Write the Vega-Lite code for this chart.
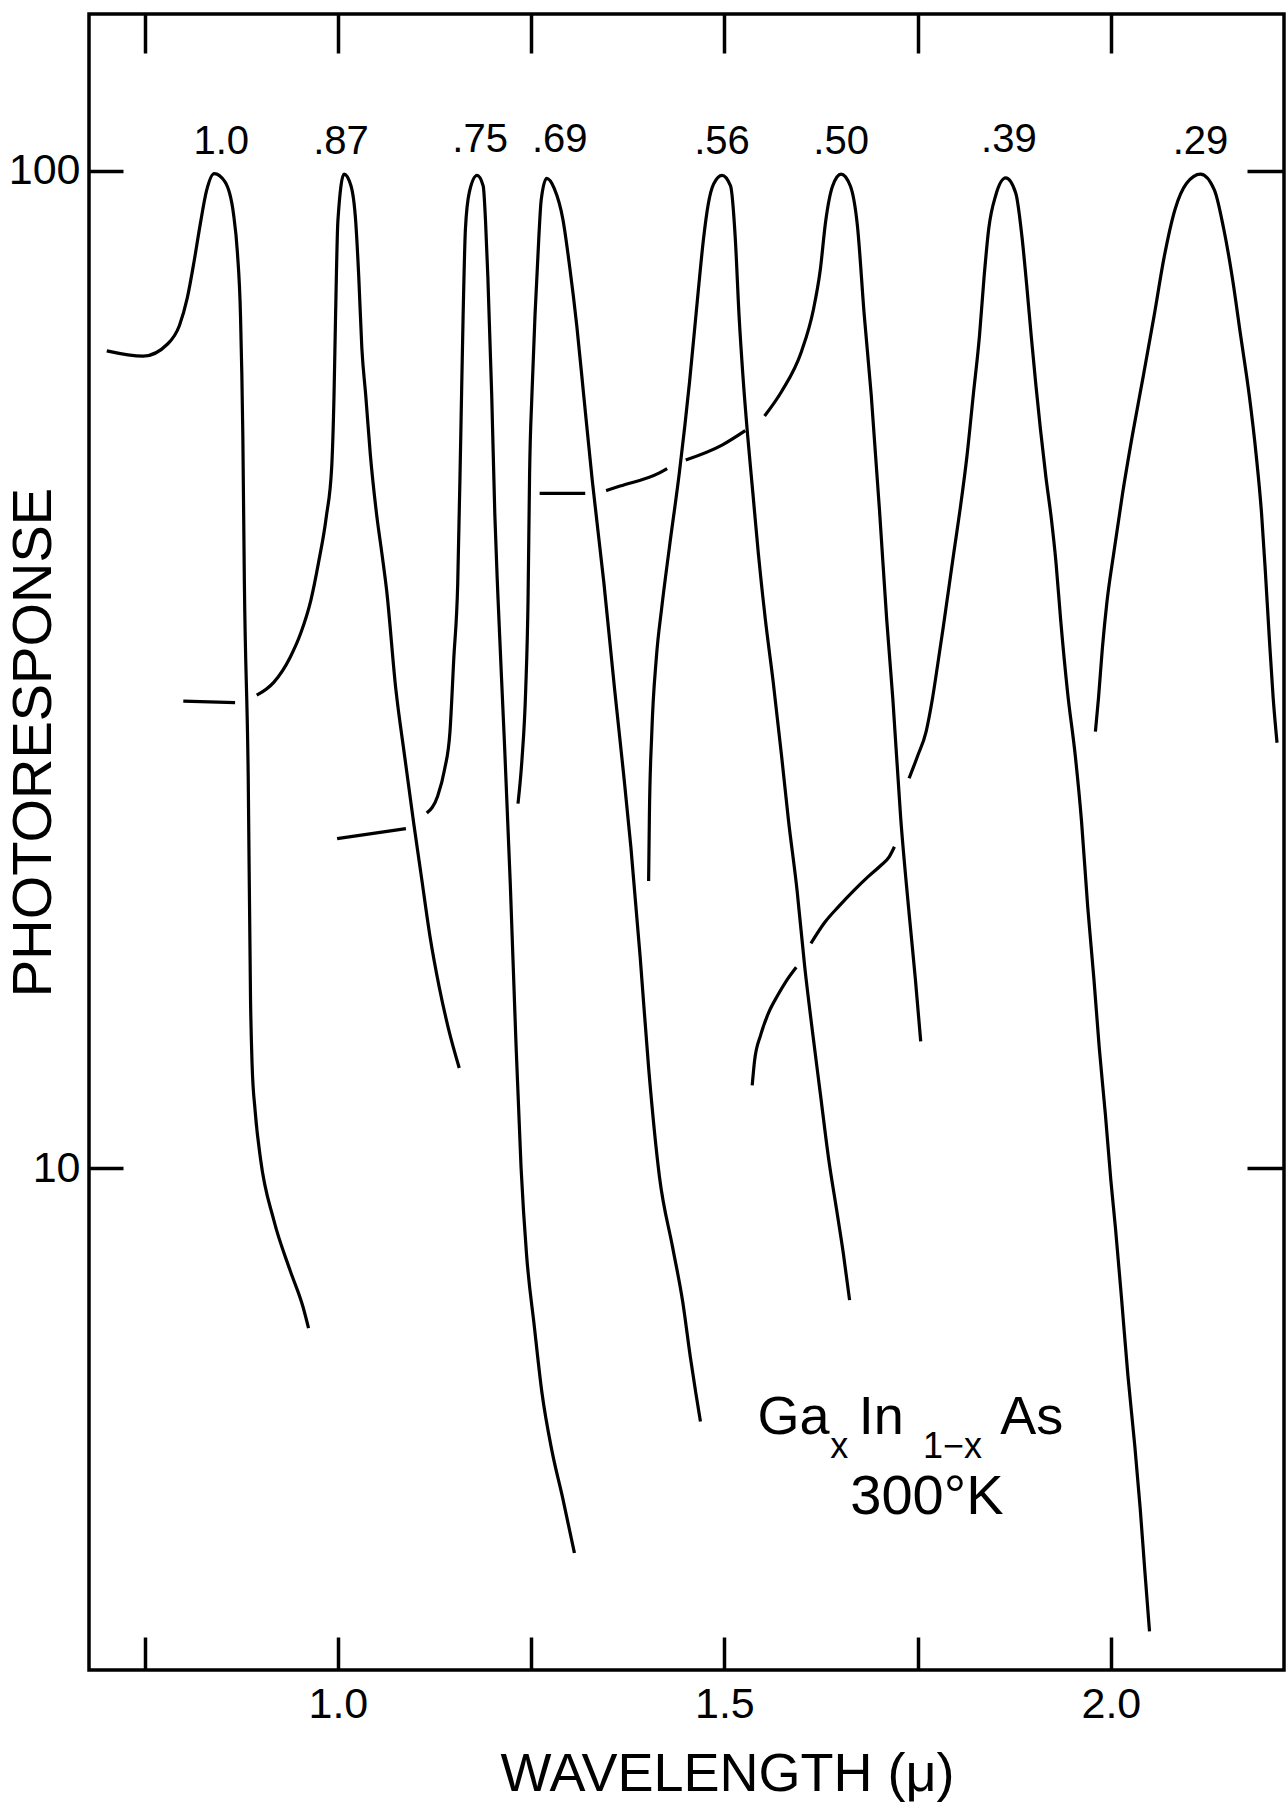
{
  "$schema": "https://vega.github.io/schema/vega-lite/v6.json",
  "width": 1195,
  "height": 1656,
  "autosize": {"type": "none"},
  "padding": {"left": 89, "top": 14, "right": 3, "bottom": 139},
  "background": "white",
  "config": {
    "view": {"stroke": "black", "strokeWidth": 3.5},
    "axis": {"grid": false, "domain": false, "tickColor": "black", "tickWidth": 3.5, "labelColor": "black", "titleColor": "black", "labelFont": "Liberation Sans", "titleFont": "Liberation Sans", "titleFontWeight": "normal"},
    "text": {"font": "Liberation Sans", "color": "black"}
  },
  "datasets": {
    "curves": [
      {"segment": "1.0", "wavelength": 0.701, "response": 66.0},
      {"segment": "1.0", "wavelength": 0.748, "response": 65.2},
      {"segment": "1.0", "wavelength": 0.780, "response": 67.1},
      {"segment": "1.0", "wavelength": 0.795, "response": 70.0},
      {"segment": "1.0", "wavelength": 0.805, "response": 74.5},
      {"segment": "1.0", "wavelength": 0.814, "response": 81.2},
      {"segment": "1.0", "wavelength": 0.822, "response": 88.5},
      {"segment": "1.0", "wavelength": 0.830, "response": 95.5},
      {"segment": "1.0", "wavelength": 0.840, "response": 99.4},
      {"segment": "1.0", "wavelength": 0.854, "response": 97.5},
      {"segment": "1.0", "wavelength": 0.865, "response": 90.5},
      {"segment": "1.0", "wavelength": 0.870, "response": 82.8},
      {"segment": "1.0", "wavelength": 0.874, "response": 71.6},
      {"segment": "1.0", "wavelength": 0.877, "response": 54.4},
      {"segment": "1.0", "wavelength": 0.879, "response": 38.7},
      {"segment": "1.0", "wavelength": 0.884, "response": 24.6},
      {"segment": "1.0", "wavelength": 0.887, "response": 14.7},
      {"segment": "1.0", "wavelength": 0.889, "response": 12.7},
      {"segment": "1.0", "wavelength": 0.893, "response": 11.4},
      {"segment": "1.0", "wavelength": 0.900, "response": 10.2},
      {"segment": "1.0", "wavelength": 0.917, "response": 8.87},
      {"segment": "1.0", "wavelength": 0.938, "response": 7.90},
      {"segment": "1.0", "wavelength": 0.955, "response": 7.25},
      {"segment": "1.0", "wavelength": 0.962, "response": 6.91},

      {"segment": "0.87a", "wavelength": 0.800, "response": 29.4},
      {"segment": "0.87a", "wavelength": 0.867, "response": 29.3},
      {"segment": "0.87b", "wavelength": 0.895, "response": 29.8},
      {"segment": "0.87b", "wavelength": 0.917, "response": 30.7},
      {"segment": "0.87b", "wavelength": 0.938, "response": 32.5},
      {"segment": "0.87b", "wavelength": 0.952, "response": 34.4},
      {"segment": "0.87b", "wavelength": 0.965, "response": 37.1},
      {"segment": "0.87b", "wavelength": 0.975, "response": 40.5},
      {"segment": "0.87b", "wavelength": 0.985, "response": 45.0},
      {"segment": "0.87b", "wavelength": 0.992, "response": 50.5},
      {"segment": "0.87b", "wavelength": 0.995, "response": 59.6},
      {"segment": "0.87b", "wavelength": 0.997, "response": 71.6},
      {"segment": "0.87b", "wavelength": 1.000, "response": 89.1},
      {"segment": "0.87b", "wavelength": 1.008, "response": 99.3},
      {"segment": "0.87b", "wavelength": 1.017, "response": 96.6},
      {"segment": "0.87b", "wavelength": 1.023, "response": 89.1},
      {"segment": "0.87b", "wavelength": 1.027, "response": 78.3},
      {"segment": "0.87b", "wavelength": 1.031, "response": 66.4},
      {"segment": "0.87b", "wavelength": 1.036, "response": 59.6},
      {"segment": "0.87b", "wavelength": 1.042, "response": 51.9},
      {"segment": "0.87b", "wavelength": 1.050, "response": 45.3},
      {"segment": "0.87b", "wavelength": 1.057, "response": 41.3},
      {"segment": "0.87b", "wavelength": 1.063, "response": 38.0},
      {"segment": "0.87b", "wavelength": 1.075, "response": 30.2},
      {"segment": "0.87b", "wavelength": 1.086, "response": 26.0},
      {"segment": "0.87b", "wavelength": 1.098, "response": 22.2},
      {"segment": "0.87b", "wavelength": 1.108, "response": 19.6},
      {"segment": "0.87b", "wavelength": 1.119, "response": 17.1},
      {"segment": "0.87b", "wavelength": 1.131, "response": 15.2},
      {"segment": "0.87b", "wavelength": 1.143, "response": 13.8},
      {"segment": "0.87b", "wavelength": 1.157, "response": 12.6},

      {"segment": "0.75a", "wavelength": 0.999, "response": 21.4},
      {"segment": "0.75a", "wavelength": 1.088, "response": 21.9},
      {"segment": "0.75b", "wavelength": 1.115, "response": 22.7},
      {"segment": "0.75b", "wavelength": 1.129, "response": 23.6},
      {"segment": "0.75b", "wavelength": 1.138, "response": 25.1},
      {"segment": "0.75b", "wavelength": 1.145, "response": 27.4},
      {"segment": "0.75b", "wavelength": 1.150, "response": 32.5},
      {"segment": "0.75b", "wavelength": 1.155, "response": 38.5},
      {"segment": "0.75b", "wavelength": 1.159, "response": 54.4},
      {"segment": "0.75b", "wavelength": 1.162, "response": 71.6},
      {"segment": "0.75b", "wavelength": 1.165, "response": 87.5},
      {"segment": "0.75b", "wavelength": 1.170, "response": 95.2},
      {"segment": "0.75b", "wavelength": 1.180, "response": 99.0},
      {"segment": "0.75b", "wavelength": 1.188, "response": 96.6},
      {"segment": "0.75b", "wavelength": 1.191, "response": 89.1},
      {"segment": "0.75b", "wavelength": 1.194, "response": 78.3},
      {"segment": "0.75b", "wavelength": 1.199, "response": 59.6},
      {"segment": "0.75b", "wavelength": 1.203, "response": 45.3},
      {"segment": "0.75b", "wavelength": 1.207, "response": 37.5},
      {"segment": "0.75b", "wavelength": 1.215, "response": 27.2},
      {"segment": "0.75b", "wavelength": 1.223, "response": 19.3},
      {"segment": "0.75b", "wavelength": 1.230, "response": 13.6},
      {"segment": "0.75b", "wavelength": 1.237, "response": 10.0},
      {"segment": "0.75b", "wavelength": 1.244, "response": 8.20},
      {"segment": "0.75b", "wavelength": 1.254, "response": 6.95},
      {"segment": "0.75b", "wavelength": 1.264, "response": 5.95},
      {"segment": "0.75b", "wavelength": 1.277, "response": 5.20},
      {"segment": "0.75b", "wavelength": 1.291, "response": 4.66},
      {"segment": "0.75b", "wavelength": 1.306, "response": 4.11},

      {"segment": "0.69", "wavelength": 1.233, "response": 23.2},
      {"segment": "0.69", "wavelength": 1.238, "response": 25.6},
      {"segment": "0.69", "wavelength": 1.243, "response": 30.2},
      {"segment": "0.69", "wavelength": 1.246, "response": 37.1},
      {"segment": "0.69", "wavelength": 1.248, "response": 49.7},
      {"segment": "0.69", "wavelength": 1.251, "response": 59.6},
      {"segment": "0.69", "wavelength": 1.255, "response": 71.6},
      {"segment": "0.69", "wavelength": 1.260, "response": 85.9},
      {"segment": "0.69", "wavelength": 1.263, "response": 93.5},
      {"segment": "0.69", "wavelength": 1.270, "response": 98.3},
      {"segment": "0.69", "wavelength": 1.280, "response": 96.0},
      {"segment": "0.69", "wavelength": 1.291, "response": 89.5},
      {"segment": "0.69", "wavelength": 1.300, "response": 80.0},
      {"segment": "0.69", "wavelength": 1.309, "response": 70.0},
      {"segment": "0.69", "wavelength": 1.318, "response": 59.6},
      {"segment": "0.69", "wavelength": 1.329, "response": 49.0},
      {"segment": "0.69", "wavelength": 1.344, "response": 38.7},
      {"segment": "0.69", "wavelength": 1.358, "response": 30.2},
      {"segment": "0.69", "wavelength": 1.369, "response": 25.1},
      {"segment": "0.69", "wavelength": 1.379, "response": 21.0},
      {"segment": "0.69", "wavelength": 1.391, "response": 16.3},
      {"segment": "0.69", "wavelength": 1.402, "response": 12.6},
      {"segment": "0.69", "wavelength": 1.416, "response": 9.80},
      {"segment": "0.69", "wavelength": 1.433, "response": 8.33},
      {"segment": "0.69", "wavelength": 1.446, "response": 7.35},
      {"segment": "0.69", "wavelength": 1.456, "response": 6.46},
      {"segment": "0.69", "wavelength": 1.463, "response": 5.95},
      {"segment": "0.69", "wavelength": 1.469, "response": 5.57},

      {"segment": "0.56", "wavelength": 1.402, "response": 19.4},
      {"segment": "0.56", "wavelength": 1.403, "response": 22.6},
      {"segment": "0.56", "wavelength": 1.406, "response": 27.2},
      {"segment": "0.56", "wavelength": 1.412, "response": 32.5},
      {"segment": "0.56", "wavelength": 1.419, "response": 36.5},
      {"segment": "0.56", "wavelength": 1.429, "response": 42.0},
      {"segment": "0.56", "wavelength": 1.442, "response": 50.0},
      {"segment": "0.56", "wavelength": 1.455, "response": 61.5},
      {"segment": "0.56", "wavelength": 1.466, "response": 75.5},
      {"segment": "0.56", "wavelength": 1.473, "response": 85.5},
      {"segment": "0.56", "wavelength": 1.479, "response": 92.5},
      {"segment": "0.56", "wavelength": 1.486, "response": 97.0},
      {"segment": "0.56", "wavelength": 1.497, "response": 99.0},
      {"segment": "0.56", "wavelength": 1.508, "response": 96.6},
      {"segment": "0.56", "wavelength": 1.514, "response": 85.9},
      {"segment": "0.56", "wavelength": 1.519, "response": 71.6},
      {"segment": "0.56", "wavelength": 1.524, "response": 62.3},
      {"segment": "0.56", "wavelength": 1.530, "response": 54.4},
      {"segment": "0.56", "wavelength": 1.537, "response": 47.4},
      {"segment": "0.56", "wavelength": 1.544, "response": 41.3},
      {"segment": "0.56", "wavelength": 1.553, "response": 35.5},
      {"segment": "0.56", "wavelength": 1.563, "response": 30.8},
      {"segment": "0.56", "wavelength": 1.574, "response": 25.9},
      {"segment": "0.56", "wavelength": 1.583, "response": 22.3},
      {"segment": "0.56", "wavelength": 1.594, "response": 19.0},
      {"segment": "0.56", "wavelength": 1.604, "response": 15.9},
      {"segment": "0.56", "wavelength": 1.614, "response": 13.7},
      {"segment": "0.56", "wavelength": 1.624, "response": 11.9},
      {"segment": "0.56", "wavelength": 1.635, "response": 10.2},
      {"segment": "0.56", "wavelength": 1.645, "response": 9.10},
      {"segment": "0.56", "wavelength": 1.654, "response": 8.20},
      {"segment": "0.56", "wavelength": 1.662, "response": 7.37},

      {"segment": "0.50a", "wavelength": 1.261, "response": 47.5},
      {"segment": "0.50a", "wavelength": 1.320, "response": 47.5},
      {"segment": "0.50b", "wavelength": 1.347, "response": 47.8},
      {"segment": "0.50b", "wavelength": 1.365, "response": 48.3},
      {"segment": "0.50b", "wavelength": 1.416, "response": 49.8},
      {"segment": "0.50b", "wavelength": 1.426, "response": 50.3},
      {"segment": "0.50c", "wavelength": 1.450, "response": 51.3},
      {"segment": "0.50c", "wavelength": 1.497, "response": 53.1},
      {"segment": "0.50c", "wavelength": 1.527, "response": 54.9},
      {"segment": "0.50d", "wavelength": 1.552, "response": 56.8},
      {"segment": "0.50d", "wavelength": 1.574, "response": 60.1},
      {"segment": "0.50d", "wavelength": 1.600, "response": 66.0},
      {"segment": "0.50d", "wavelength": 1.615, "response": 72.5},
      {"segment": "0.50d", "wavelength": 1.624, "response": 79.5},
      {"segment": "0.50d", "wavelength": 1.631, "response": 89.0},
      {"segment": "0.50d", "wavelength": 1.640, "response": 96.6},
      {"segment": "0.50d", "wavelength": 1.651, "response": 99.3},
      {"segment": "0.50d", "wavelength": 1.663, "response": 96.6},
      {"segment": "0.50d", "wavelength": 1.672, "response": 88.3},
      {"segment": "0.50d", "wavelength": 1.681, "response": 71.6},
      {"segment": "0.50d", "wavelength": 1.690, "response": 59.6},
      {"segment": "0.50d", "wavelength": 1.701, "response": 45.3},
      {"segment": "0.50d", "wavelength": 1.710, "response": 35.5},
      {"segment": "0.50d", "wavelength": 1.718, "response": 29.5},
      {"segment": "0.50d", "wavelength": 1.728, "response": 22.5},
      {"segment": "0.50d", "wavelength": 1.739, "response": 18.0},
      {"segment": "0.50d", "wavelength": 1.747, "response": 15.5},
      {"segment": "0.50d", "wavelength": 1.754, "response": 13.4},

      {"segment": "0.39a", "wavelength": 1.536, "response": 12.1},
      {"segment": "0.39a", "wavelength": 1.539, "response": 12.8},
      {"segment": "0.39a", "wavelength": 1.547, "response": 13.6},
      {"segment": "0.39a", "wavelength": 1.557, "response": 14.3},
      {"segment": "0.39a", "wavelength": 1.569, "response": 14.9},
      {"segment": "0.39a", "wavelength": 1.580, "response": 15.4},
      {"segment": "0.39a", "wavelength": 1.593, "response": 15.9},
      {"segment": "0.39b", "wavelength": 1.612, "response": 16.8},
      {"segment": "0.39b", "wavelength": 1.629, "response": 17.6},
      {"segment": "0.39b", "wavelength": 1.648, "response": 18.3},
      {"segment": "0.39b", "wavelength": 1.668, "response": 19.0},
      {"segment": "0.39b", "wavelength": 1.686, "response": 19.6},
      {"segment": "0.39b", "wavelength": 1.702, "response": 20.1},
      {"segment": "0.39b", "wavelength": 1.713, "response": 20.5},
      {"segment": "0.39b", "wavelength": 1.720, "response": 21.0},
      {"segment": "0.39c", "wavelength": 1.739, "response": 24.6},
      {"segment": "0.39c", "wavelength": 1.750, "response": 25.9},
      {"segment": "0.39c", "wavelength": 1.761, "response": 27.4},
      {"segment": "0.39c", "wavelength": 1.769, "response": 29.5},
      {"segment": "0.39c", "wavelength": 1.776, "response": 32.0},
      {"segment": "0.39c", "wavelength": 1.783, "response": 34.8},
      {"segment": "0.39c", "wavelength": 1.790, "response": 38.0},
      {"segment": "0.39c", "wavelength": 1.797, "response": 41.5},
      {"segment": "0.39c", "wavelength": 1.805, "response": 45.8},
      {"segment": "0.39c", "wavelength": 1.814, "response": 51.9},
      {"segment": "0.39c", "wavelength": 1.822, "response": 59.6},
      {"segment": "0.39c", "wavelength": 1.830, "response": 68.3},
      {"segment": "0.39c", "wavelength": 1.836, "response": 78.3},
      {"segment": "0.39c", "wavelength": 1.842, "response": 87.5},
      {"segment": "0.39c", "wavelength": 1.851, "response": 94.5},
      {"segment": "0.39c", "wavelength": 1.864, "response": 98.4},
      {"segment": "0.39c", "wavelength": 1.877, "response": 95.0},
      {"segment": "0.39c", "wavelength": 1.885, "response": 85.9},
      {"segment": "0.39c", "wavelength": 1.891, "response": 77.0},
      {"segment": "0.39c", "wavelength": 1.897, "response": 68.3},
      {"segment": "0.39c", "wavelength": 1.903, "response": 61.0},
      {"segment": "0.39c", "wavelength": 1.909, "response": 55.0},
      {"segment": "0.39c", "wavelength": 1.916, "response": 49.3},
      {"segment": "0.39c", "wavelength": 1.923, "response": 44.8},
      {"segment": "0.39c", "wavelength": 1.929, "response": 40.5},
      {"segment": "0.39c", "wavelength": 1.935, "response": 35.5},
      {"segment": "0.39c", "wavelength": 1.944, "response": 30.0},
      {"segment": "0.39c", "wavelength": 1.954, "response": 25.9},
      {"segment": "0.39c", "wavelength": 1.962, "response": 22.3},
      {"segment": "0.39c", "wavelength": 1.970, "response": 18.3},
      {"segment": "0.39c", "wavelength": 1.978, "response": 15.5},
      {"segment": "0.39c", "wavelength": 1.985, "response": 13.2},
      {"segment": "0.39c", "wavelength": 1.993, "response": 11.3},
      {"segment": "0.39c", "wavelength": 2.000, "response": 9.72},
      {"segment": "0.39c", "wavelength": 2.006, "response": 8.70},
      {"segment": "0.39c", "wavelength": 2.014, "response": 7.37},
      {"segment": "0.39c", "wavelength": 2.022, "response": 6.20},
      {"segment": "0.39c", "wavelength": 2.031, "response": 5.26},
      {"segment": "0.39c", "wavelength": 2.038, "response": 4.55},
      {"segment": "0.39c", "wavelength": 2.044, "response": 3.94},
      {"segment": "0.39c", "wavelength": 2.050, "response": 3.43},

      {"segment": "0.29", "wavelength": 1.980, "response": 27.4},
      {"segment": "0.29", "wavelength": 1.984, "response": 29.6},
      {"segment": "0.29", "wavelength": 1.989, "response": 33.2},
      {"segment": "0.29", "wavelength": 1.995, "response": 37.0},
      {"segment": "0.29", "wavelength": 2.004, "response": 41.5},
      {"segment": "0.29", "wavelength": 2.015, "response": 47.4},
      {"segment": "0.29", "wavelength": 2.028, "response": 54.4},
      {"segment": "0.29", "wavelength": 2.042, "response": 62.3},
      {"segment": "0.29", "wavelength": 2.056, "response": 71.6},
      {"segment": "0.29", "wavelength": 2.069, "response": 82.0},
      {"segment": "0.29", "wavelength": 2.083, "response": 91.5},
      {"segment": "0.29", "wavelength": 2.098, "response": 97.2},
      {"segment": "0.29", "wavelength": 2.116, "response": 99.3},
      {"segment": "0.29", "wavelength": 2.134, "response": 95.7},
      {"segment": "0.29", "wavelength": 2.146, "response": 87.5},
      {"segment": "0.29", "wavelength": 2.157, "response": 78.3},
      {"segment": "0.29", "wavelength": 2.168, "response": 68.3},
      {"segment": "0.29", "wavelength": 2.179, "response": 59.6},
      {"segment": "0.29", "wavelength": 2.188, "response": 51.9},
      {"segment": "0.29", "wavelength": 2.195, "response": 45.3},
      {"segment": "0.29", "wavelength": 2.200, "response": 39.5},
      {"segment": "0.29", "wavelength": 2.205, "response": 34.0},
      {"segment": "0.29", "wavelength": 2.210, "response": 29.6},
      {"segment": "0.29", "wavelength": 2.215, "response": 26.7}
    ],
    "labels": [
      {"label": "1.0", "wavelength": 0.849, "response": 106.9},
      {"label": ".87", "wavelength": 1.004, "response": 106.9},
      {"label": ".75", "wavelength": 1.184, "response": 107.5},
      {"label": ".69", "wavelength": 1.287, "response": 107.5},
      {"label": ".56", "wavelength": 1.497, "response": 106.9},
      {"label": ".50", "wavelength": 1.651, "response": 106.9},
      {"label": ".39", "wavelength": 1.868, "response": 107.5},
      {"label": ".29", "wavelength": 2.116, "response": 106.9}
    ],
    "notes": [
      {"part": "main", "text": "Ga", "wavelength": 1.543, "response": 5.41},
      {"part": "sub", "text": "x", "wavelength": 1.637, "response": 5.12},
      {"part": "main", "text": "In", "wavelength": 1.674, "response": 5.41},
      {"part": "sub", "text": "1−x", "wavelength": 1.757, "response": 5.12},
      {"part": "main", "text": "As", "wavelength": 1.857, "response": 5.41},
      {"part": "temp", "text": "300°K", "wavelength": 1.762, "response": 4.50}
    ]
  },
  "layer": [
    {
      "data": {"name": "curves"},
      "mark": {"type": "line", "color": "black", "strokeWidth": 3.2, "interpolate": "monotone"},
      "encoding": {
        "x": {"field": "wavelength", "type": "quantitative",
          "scale": {"domain": [0.678, 2.224], "nice": false, "zero": false},
          "axis": {"orient": "bottom", "values": [0.75, 1, 1.25, 1.5, 1.75, 2],
            "labelExpr": "indexof([1, 1.5, 2], datum.value) >= 0 ? format(datum.value, '.1f') : ''",
            "tickSize": -33, "labelPadding": 46, "labelFontSize": 43, "labelOverlap": false, "labelFlush": false,
            "title": "WAVELENGTH (μ)", "titleFontSize": 54, "titleX": 638, "titleY": 120,
            "titleAlign": "center", "titleBaseline": "alphabetic"}},
        "y": {"field": "response", "type": "quantitative",
          "scale": {"type": "log", "domain": [3.137, 143.7], "nice": false},
          "axis": {"orient": "left", "values": [10, 100], "labelExpr": "format(datum.value, 'd')",
            "tickSize": -34, "labelPadding": 43, "labelFontSize": 43, "labelOverlap": false, "labelFlush": false,
            "title": "PHOTORESPONSE", "titleFontSize": 56, "titleAngle": 270, "titleX": -56, "titleY": 728,
            "titleAlign": "center", "titleBaseline": "middle"}},
        "detail": {"field": "segment", "type": "nominal"}
      }
    },
    {
      "data": {"name": "labels"},
      "mark": {"type": "text", "fontSize": 40, "align": "center", "baseline": "middle"},
      "encoding": {
        "x": {"field": "wavelength", "type": "quantitative",
          "scale": {"domain": [0.678, 2.224], "nice": false, "zero": false},
          "axis": {"orient": "top", "values": [0.75, 1, 1.25, 1.5, 1.75, 2], "labels": false, "tickSize": -39, "title": null}},
        "y": {"field": "response", "type": "quantitative",
          "scale": {"type": "log", "domain": [3.137, 143.7], "nice": false},
          "axis": {"orient": "right", "values": [10, 100], "labels": false, "tickSize": -37, "title": null}},
        "text": {"field": "label", "type": "nominal"}
      }
    },
    {
      "data": {"name": "notes"},
      "transform": [{"filter": "datum.part == 'main'"}],
      "mark": {"type": "text", "fontSize": 54, "align": "left", "baseline": "alphabetic"},
      "encoding": {
        "x": {"field": "wavelength", "type": "quantitative", "axis": null},
        "y": {"field": "response", "type": "quantitative", "scale": {"type": "log"}, "axis": null},
        "text": {"field": "text", "type": "nominal"}
      }
    },
    {
      "data": {"name": "notes"},
      "transform": [{"filter": "datum.part == 'sub'"}],
      "mark": {"type": "text", "fontSize": 36, "align": "left", "baseline": "alphabetic"},
      "encoding": {
        "x": {"field": "wavelength", "type": "quantitative", "axis": null},
        "y": {"field": "response", "type": "quantitative", "scale": {"type": "log"}, "axis": null},
        "text": {"field": "text", "type": "nominal"}
      }
    },
    {
      "data": {"name": "notes"},
      "transform": [{"filter": "datum.part == 'temp'"}],
      "mark": {"type": "text", "fontSize": 56, "align": "center", "baseline": "alphabetic"},
      "encoding": {
        "x": {"field": "wavelength", "type": "quantitative", "axis": null},
        "y": {"field": "response", "type": "quantitative", "scale": {"type": "log"}, "axis": null},
        "text": {"field": "text", "type": "nominal"}
      }
    }
  ],
  "resolve": {"axis": {"x": "independent", "y": "independent"}}
}
